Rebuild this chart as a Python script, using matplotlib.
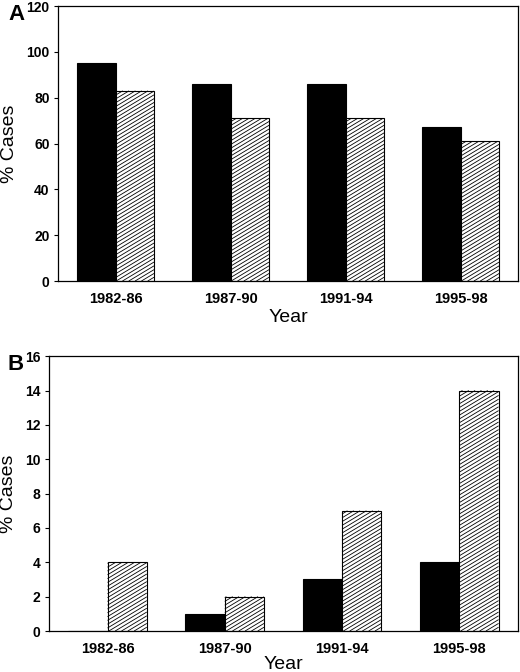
import matplotlib
matplotlib.use("Agg")
import matplotlib.pyplot as plt
from matplotlib.collections import LineCollection
from matplotlib.transforms import IdentityTransform
import numpy as np

plt.rcParams["font.family"] = ["Liberation Sans", "DejaVu Sans"]

years = ["1982-86", "1987-90", "1991-94", "1995-98"]

# panel A
a_black = [95, 86, 86, 67]
a_hatch = [83, 71, 71, 61]

# panel B
b_black = [0, 1, 3, 4]
b_hatch = [4, 2, 7, 14]

fig = plt.figure(figsize=(5.2, 6.72), dpi=100)
ax_a = fig.add_axes([0.1115, 0.5818, 0.885, 0.4092])
ax_b = fig.add_axes([0.094, 0.061, 0.902, 0.409])

x = np.arange(len(years))
w = 0.335


def shallow_hatch(ax, patch, gap=3.8, angle=31):
    # the original hatch is flatter than matplotlib's 45 deg, so draw it by hand
    bb = patch.get_window_extent()
    if bb.height <= 0:
        return
    k = np.tan(np.radians(angle))
    x0, x1, y0, y1 = bb.x0, bb.x1, bb.y0, bb.y1
    segs = []
    c = y0 - k * (x1 - x0)
    while c < y1:
        xs = max(x0, x0 + (y0 - c) / k)
        xe = min(x1, x0 + (y1 - c) / k)
        if xe > xs:
            segs.append([(xs, c + k * (xs - x0)), (xe, c + k * (xe - x0))])
        c += gap
    lc = LineCollection(segs, transform=IdentityTransform(), colors="black",
                        linewidths=0.6, zorder=patch.get_zorder() + 0.1)
    ax.add_collection(lc, autolim=False)


def draw(ax, black, hatch, ymax, step, letter, letter_x, letter_dy, xpad):
    ax.bar(x - w / 2, black, w, color="black", edgecolor="black", linewidth=0.8)
    bars = ax.bar(x + w / 2, hatch, w, color="white", edgecolor="black",
                  linewidth=0.8)
    ax.set_xlim(-0.5, 3.5)
    ax.set_ylim(0, ymax)
    ax.set_yticks(np.arange(0, ymax + 1, step))
    ax.set_xticks(x)
    ax.set_xticklabels(years)
    ax.tick_params(axis="x", length=0, pad=8, labelsize=10.5)
    ax.tick_params(axis="y", length=3, width=0.8, pad=3, labelsize=10)
    for lab in ax.get_xticklabels() + ax.get_yticklabels():
        lab.set_fontweight("bold")
    for s in ax.spines.values():
        s.set_linewidth(0.9)
    ax.set_ylabel("% Cases", fontsize=14, labelpad=6)
    ax.set_xlabel("Year", fontsize=14, labelpad=xpad)
    ax.text(letter_x, 1.0 - letter_dy, letter, transform=ax.transAxes,
            fontsize=16, fontweight="bold", ha="left", va="center")
    for p in bars:
        shallow_hatch(ax, p)


draw(ax_a, a_black, a_hatch, 120, 20, "A", -0.107, 0.03, 2)
draw(ax_b, b_black, b_hatch, 16, 2, "B", -0.088, 0.032, 0)

fig.savefig("out.png", dpi=100)
